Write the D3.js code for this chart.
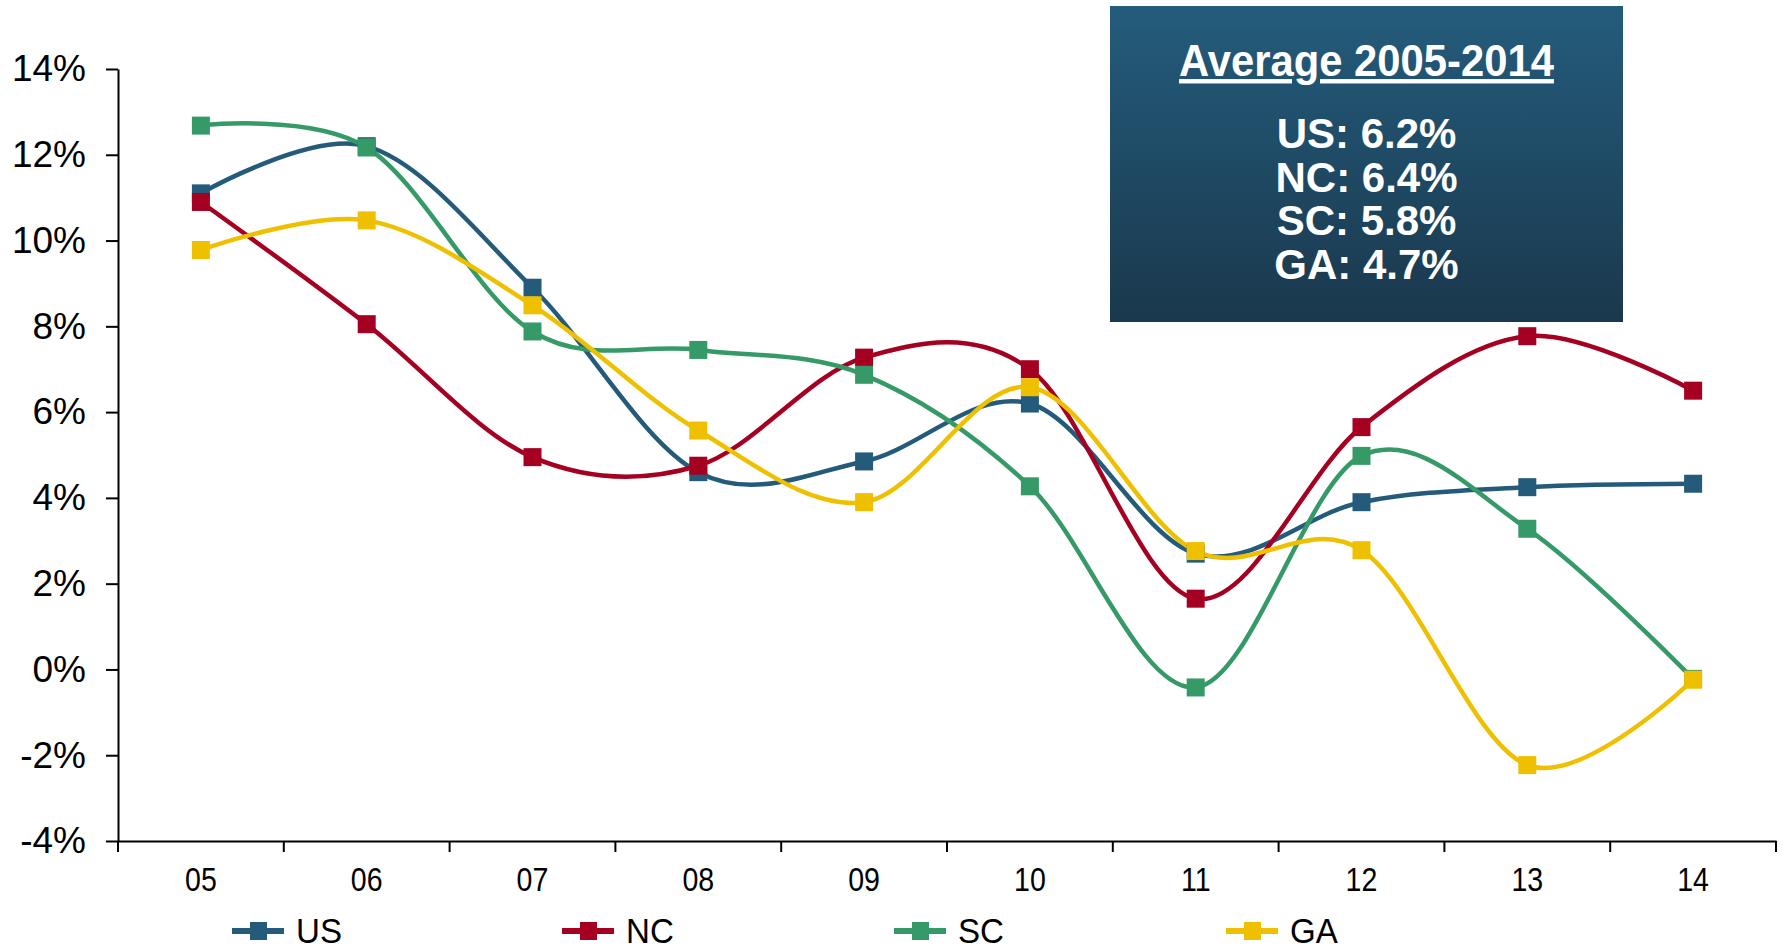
<!DOCTYPE html>
<html>
<head>
<meta charset="utf-8">
<script src="https://cdn.jsdelivr.net/npm/d3@7"></script>
<style>
  body { margin: 0; background: #fff; }
  svg { display: block; font-family: "Liberation Sans", Arial, sans-serif; }
</style>
</head>
<body>
<svg id="chart" width="1783" height="951"></svg>
<script>
// categories and series
const years = ["05", "06", "07", "08", "09", "10", "11", "12", "13", "14"];
const usValues = [11.1, 12.2, 8.9, 4.6, 4.85, 6.2, 2.7, 3.9, 4.25, 4.33];
const ncValues = [10.9, 8.05, 4.95, 4.75, 7.27, 7.0, 1.65, 5.65, 7.77, 6.5];
const scValues = [12.68, 12.17, 7.88, 7.45, 6.87, 4.27, -0.42, 4.98, 3.28, -0.22];
const gaValues = [9.78, 10.47, 8.49, 5.57, 3.9, 6.58, 2.76, 2.78, -2.23, -0.24];
const yTicks = [-4, -2, 0, 2, 4, 6, 8, 10, 12, 14];
const avgTitle = "Average 2005-2014";
const avgLines = ["US: 6.2%", "NC: 6.4%", "SC: 5.8%", "GA: 4.7%"];

const series = [
    { name: "US", values: usValues, color: "#245b7b" },
    { name: "NC", values: ncValues, color: "#a50021" },
    { name: "SC", values: scValues, color: "#369a68" },
    { name: "GA", values: gaValues, color: "#efc000" }
];

const svg = d3.select("#chart");
const plotLeft = 118, plotRight = 1776, plotTop = 69, plotBottom = 841;

const x = d3.scaleBand().domain(years).range([plotLeft, plotRight]).padding(0);
const y = d3.scaleLinear().domain([-4, 14]).range([plotBottom, plotTop]);

// y axis
const yAxis = svg.append("g")
    .attr("transform", `translate(${plotLeft},0)`)
    .call(d3.axisLeft(y).tickValues(yTicks).tickSize(12).tickPadding(20)
        .tickFormat(d => d + "%").tickSizeOuter(0));
yAxis.select(".domain").attr("stroke", "#000").attr("stroke-width", 2);
yAxis.selectAll(".tick line").attr("stroke", "#000").attr("stroke-width", 2);
yAxis.selectAll("text").attr("font-size", 37).attr("fill", "#000")
    .attr("font-family", "Liberation Sans, Arial, sans-serif");

// x axis (labels centred, ticks on category boundaries)
const xAxis = svg.append("g")
    .attr("transform", `translate(0,${plotBottom})`)
    .call(d3.axisBottom(x).tickSize(0).tickPadding(26).tickSizeOuter(0));
xAxis.select(".domain").attr("stroke", "#000").attr("stroke-width", 2);
xAxis.selectAll("text").attr("font-size", 34).attr("fill", "#000")
    .attr("transform", "scale(0.84,1)");

const boundaries = years.map(d => x(d)).concat([x(years[years.length - 1]) + x.bandwidth()]);
svg.append("g").selectAll("line")
    .data(boundaries)
    .enter()
    .append("line")
    .attr("x1", d => d).attr("x2", d => d)
    .attr("y1", plotBottom).attr("y2", plotBottom + 11)
    .attr("stroke", "#000")
    .attr("stroke-width", 2);

// lines
const line = d3.line()
    .x((d, i) => x(years[i]) + x.bandwidth() / 2)
    .y(d => y(d))
    .curve(d3.curveCardinal.tension(0));

const m = 18;
series.forEach(s => {
    svg.append("path")
        .datum(s.values)
        .attr("d", line)
        .attr("fill", "none")
        .attr("stroke", s.color)
        .attr("stroke-width", 4.5);
});
series.forEach(s => {
    svg.append("g").selectAll("rect")
        .data(s.values)
        .enter()
        .append("rect")
        .attr("x", (d, i) => x(years[i]) + x.bandwidth() / 2 - m / 2)
        .attr("y", d => y(d) - m / 2)
        .attr("width", m)
        .attr("height", m)
        .attr("fill", s.color);
});

// average box
const defs = svg.append("defs");
const grad = defs.append("linearGradient")
    .attr("id", "boxGrad")
    .attr("x1", 0).attr("y1", 0).attr("x2", 0).attr("y2", 1);
grad.append("stop").attr("offset", "0%").attr("stop-color", "#245c7c");
grad.append("stop").attr("offset", "100%").attr("stop-color", "#1a384d");

const box = { x: 1110, y: 6, w: 513, h: 316 };
svg.append("rect")
    .attr("x", box.x).attr("y", box.y)
    .attr("width", box.w).attr("height", box.h)
    .attr("fill", "url(#boxGrad)");

const cx = box.x + box.w / 2;
svg.append("text")
    .attr("transform", `translate(${cx},76) scale(0.95,1)`)
    .attr("text-anchor", "middle")
    .attr("font-weight", "bold")
    .attr("font-size", 44)
    .attr("fill", "#fff")
    .attr("text-decoration", "underline")
    .text(avgTitle);

svg.append("g").selectAll("text")
    .data(avgLines)
    .enter()
    .append("text")
    .attr("transform", (d, i) => `translate(${cx},${148 + i * 43.5})`)
    .attr("text-anchor", "middle")
    .attr("font-weight", "bold")
    .attr("font-size", 42)
    .attr("fill", "#fff")
    .text(d => d);

// legend
const legendX = [232, 562, 894, 1226];
const legendY = 931;
const legend = svg.append("g").selectAll("g")
    .data(series)
    .enter()
    .append("g")
    .attr("transform", (d, i) => `translate(${legendX[i]},${legendY})`);
legend.append("line")
    .attr("x1", 0).attr("x2", 52)
    .attr("y1", 0).attr("y2", 0)
    .attr("stroke", d => d.color)
    .attr("stroke-width", 6);
legend.append("rect")
    .attr("x", 26 - 8).attr("y", -9)
    .attr("width", 17).attr("height", 18)
    .attr("fill", d => d.color);
legend.append("text")
    .attr("transform", "translate(64,12) scale(0.92,1)")
    .attr("font-size", 36)
    .attr("fill", "#000")
    .text(d => d.name);
</script>
</body>
</html>
